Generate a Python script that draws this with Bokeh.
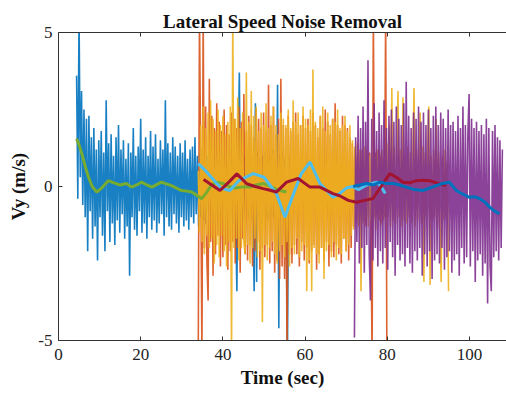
import numpy as np
from bokeh.plotting import figure
from bokeh.models import LinearAxis, FixedTicker, Range1d
from bokeh.embed import file_html
from bokeh.resources import INLINE

# ---------------- data ----------------
# raw noisy lateral speed records, sampled every 0.3 s
blue_t0 = 4.4
blue_vals = [
    3.6, -0.4, 5.6, 0.3, 3.1, -0.6, 2.5, -1.0, 2.2, -2.1,
    2.3, -0.8, 1.6, -1.7, 1.9, -1.3, 1.2, -2.4, 1.5, -1.0,
    1.8, -1.6, 1.1, -2.1, 2.8, -0.8, 1.4, -1.8, 1.7, -1.2,
    1.0, -1.9, 1.6, -1.1, 2.0, -1.5, 1.2, -0.9, 1.5, -1.7,
    0.9, -1.3, 1.4, -2.9, 1.1, -1.0, 1.9, -1.4, 1.0, -1.6,
    1.3, -0.8, 2.2, -1.5, 1.2, -1.2, 1.6, -1.7, 1.0, -1.0,
    1.8, -1.4, 1.3, -1.1, 1.7, -1.5, 0.9, -1.2, 1.5, -0.9,
    1.2, -1.6, 2.8, -1.0, 1.4, -1.3, 1.1, -1.4, 1.6, -0.9,
    1.3, -1.2, 1.0, -1.5, 1.4, -1.0, 1.1, -1.3, 1.5, -1.1,
    0.9, -1.4, 1.2, -1.0, 1.3, -1.2, 1.6, -0.9, 1.0, -1.3,
    1.1, -1.0, 1.2, -1.1, 0.9, -1.2, 1.0, -0.8, 1.1, -1.0,
    0.8, -1.2, 1.0, -0.9, 1.2, -1.1, 0.9, -1.0, 1.1, -0.8,
    1.0, -1.1, 0.8, -0.9, 1.2, -1.0, 0.9, -1.2, 1.0, -0.9,
    -3.4, 1.1, 3.7, -1.0, 0.9, -1.1, 1.0, -0.9, 1.2, -1.0,
    0.9, -1.1, 1.0, -0.8, -3.4, 2.7, -3.1, 1.1, -1.0, 0.9,
    -1.2, 1.0, -0.9, 1.1, -1.0, 0.8, -1.1, 1.0, -0.9, 1.2,
    -1.0, 0.9, -1.1, 3.3, -4.6, 1.0, -0.9, 1.1, -1.0, 0.9,
    -1.2, -5.6, 1.0, -0.8, 0.6,
]
orange_t0 = 34.0
orange_vals = [
    -5.6, 5.6, 0.8, -5.6, 5.6, -2.0, 2.6, -2.4, -3.7, 3.5,
    -1.8, 2.3, -2.9, 1.9, -2.2, 2.7, -1.6, 2.1, -2.6, 1.8,
    -2.3, 2.5, -1.9, 2.0, -2.7, 1.7, -2.1, 2.4, -1.8, 2.2,
    -2.5, 1.9, -2.0, 2.6, -2.8, 2.1, -1.7, 3.0, -2.2, 1.8,
    -2.4, 2.3, -1.9, 2.0, -2.6, 1.6, -2.1, 2.5, -1.8, 2.2,
    -2.7, 1.9, -2.0, 2.4, -2.3, 1.8, -1.9, 3.3, -2.5, 2.0,
    -2.1, 2.6, -2.8, 1.7, -2.4, 2.2, -3.0, 3.5, -2.6, 2.0,
    -3.0, 1.9, -5.6, 2.3, -2.2, 1.8, -2.5, 2.1, -1.9, 2.4,
    -2.2, 1.7, -2.6, 2.0, -1.8, 2.3, -2.4, 1.9, -2.0, 2.2,
    -2.5, 1.8, -2.1, 2.4, -1.9, 2.0, -2.7, 1.6, -2.2, 2.3,
    -2.0, 1.9, -2.4, 2.5, -1.8, 2.1, -2.6, 1.7, -2.1, 2.2,
    -2.3, 2.7, -1.9, 2.0, -2.2, 1.8, -2.5, 2.3, -1.7, 2.0,
    -2.1, 1.9, -2.4, 1.6, -2.0, 1.4, -1.3, 1.2, -1.1, 1.0,
    -1.2, 1.1, -1.0, 1.2, -1.1, 0.9, -1.3, 1.0, -1.0, 1.1,
    -1.2, -5.6, 5.6, -1.0, 1.1, -0.9, 1.2, -1.1, 1.0, -1.2,
    0.9, -1.0, 5.6, -5.6,
]
yellow_t0 = 34.0
yellow_vals = [
    0.5, -1.5, 2.0, -1.8, 2.6, -2.2, 1.9, -1.6, 2.4, -2.0,
    2.8, -1.7, 2.2, -2.5, 1.8, -1.9, 2.5, -2.3, 2.0, -1.6,
    2.3, -2.1, 1.7, -2.6, 2.1, -1.8, 2.6, -5.6, 5.6, -2.0,
    2.2, -1.7, 2.9, -2.4, 1.9, -2.0, 2.4, -1.8, -2.2, 3.7,
    -1.9, 2.1, -2.5, 3.1, -2.0, 2.3, -1.7, 2.6, -2.3, 1.8,
    -2.1, 2.4, -4.4, 2.0, -1.9, 2.7, -2.4, 1.9, -2.0, 2.3,
    -1.8, 2.6, -2.2, 2.0, -2.5, 1.7, -2.1, 2.4, -1.9, 2.2,
    -2.3, 2.0, -1.8, 2.5, -2.6, 1.9, -2.0, 2.8, -2.2, 2.1,
    -1.7, 2.4, -2.3, 2.0, -2.1, 2.6, -1.9, 2.2, -3.4, 2.0,
    -2.4, 2.5, -3.4, 3.8, -2.0, 2.1, -2.2, 1.9, -2.5, 2.3,
    -2.0, 2.6, -3.0, 1.8, -2.1, 2.4, -1.9, 2.0, -2.3, 2.2,
    -1.8, 2.1, -2.4, 2.5, -2.0, 1.9, -2.2, 2.0, -1.7, 2.3,
    -2.1, 1.8, -1.9, 2.0, -1.6, 1.5, -1.4, 1.3, -1.2, 1.4,
    -1.3, 1.2, -3.4, 1.1, -1.2, 1.3, -1.0, 1.2, -1.3, 1.0,
    -1.1, 1.3, -1.2, 1.0, -1.4, 1.2, -1.0, 1.1, -1.3, 1.2,
    -1.1, 1.0, -1.2, 1.4, -1.0, 2.0, -1.3, 3.2, -1.1, 1.3,
    -1.2, 1.1, 3.1, -1.0, 1.2, -1.3, 2.9, -1.1, 1.0, -1.2,
    1.3, -1.0, 1.1, -1.2, 1.0, 3.2, -1.3, 1.2, -1.1, 1.0,
    2.4, -1.2, 1.3, -3.1, 1.1, -1.0, 1.2, 2.6, -3.2, 1.0,
    -1.1, 1.2, -1.0, 2.2, -1.3, 1.1, -1.2, -3.1, 1.0, -1.1,
    1.2, -1.0, 0.8, -3.4,
]
purple_t0 = 72.0
purple_vals = [
    -4.9, 1.6, -1.8, 2.3, -2.5, 1.9, -2.0, 2.6, -2.8, 2.1,
    -1.9, 4.1, -2.2, -3.7, 2.2, -2.4, 2.7, -2.0, 1.8, -2.6,
    2.4, -2.1, 2.0, -2.5, 2.8, -2.0, 1.9, -2.7, 2.3, -1.8,
    2.5, -2.3, 2.1, -2.9, 2.6, -1.9, 2.2, -2.4, 2.0, -2.2,
    2.7, -2.6, 3.4, -2.0, 2.3, -2.5, 1.9, -2.8, 2.4, -2.1,
    2.2, -2.4, 2.6, -2.0, 2.1, -2.9, 2.4, -2.2, 2.0, -2.6,
    2.5, -2.1, 1.9, -3.0, 2.3, -2.4, 2.6, -2.2, 2.0, -2.5,
    2.4, -2.0, 2.2, -2.7, 1.9, -2.3, 2.5, -2.1, 2.0, -2.8,
    2.1, -2.4, 1.8, -2.2, 2.3, -2.9, 1.9, -2.0, 2.6, -2.5,
    2.0, -2.3, 1.7, 3.0, -2.6, 2.2, -2.1, 1.9, -3.1, 2.1,
    -2.4, 1.8, -2.2, 2.0, -2.9, 1.7, -2.5, 2.2, -3.8, 1.9,
    -2.6, -3.4, 1.8, -2.3, 2.0, -2.1, 1.6, -2.4, 1.5, -2.0,
    1.2,
]
sample_step = 0.3

# smoothed (noise removed) curves
green_t = [4.4, 5.0, 5.7, 6.5, 7.3, 8.2, 9.3, 10.5, 12.1, 13.5, 15.0, 16.5, 17.8, 19.0,
           20.2, 21.5, 22.7, 24.0, 25.1, 26.3, 27.5, 28.7, 29.9, 31.2, 32.4, 33.6, 34.8,
           36.0, 37.2, 38.5, 40.0, 41.5, 43.0, 44.5, 46.6, 48.0, 49.8, 51.5, 53.5, 55.5]
green_v = [1.55, 1.35, 1.06, 0.65, 0.3, 0.0, -0.18, -0.05, 0.19, 0.12, 0.05, 0.1, -0.02, 0.05,
           0.14, 0.05, -0.02, 0.07, 0.14, 0.08, 0.03, -0.05, -0.13, -0.15, -0.18, -0.28, -0.4,
           -0.2, 0.05, 0.14, 0.1, 0.0, -0.05, -0.02, -0.02, 0.05, 0.1, 0.0, -0.12, -0.18]
cyan_t = [34.0, 35.5, 37.5, 39.5, 41.7, 44.0, 47.4, 50.0, 53.0, 55.1, 57.0, 59.0, 61.2, 63.6,
          66.8, 68.4, 70.0, 71.5, 73.0, 75.0, 77.4, 78.5, 79.5]
cyan_v = [0.74, 0.55, 0.25, -0.05, -0.13, 0.2, 0.42, 0.3, -0.23, -1.0, -0.3, 0.4, 0.79, 0.1,
          -0.35, -0.23, -0.05, 0.0, -0.1, 0.05, 0.14, 0.0, -0.23]
red_t = [35.3, 37.3, 39.3, 41.5, 43.4, 45.8, 47.8, 49.8, 51.5, 53.0, 55.5, 58.3, 61.2, 63.6,
         66.8, 68.4, 70.5, 72.5, 74.5, 76.5, 78.5, 80.6, 82.2, 83.8, 85.5, 87.0, 88.7, 90.3,
         92.3, 94.3]
red_v = [0.23, 0.05, -0.13, 0.15, 0.41, 0.09, 0.0, -0.07, -0.12, -0.18, 0.14, 0.26, -0.02, -0.02,
         -0.23, -0.3, -0.45, -0.51, -0.45, -0.39, 0.0, 0.42, 0.3, 0.14, 0.12, 0.19, 0.2, 0.19,
         0.1, 0.03]
dblue_t = [71.7, 73.3, 75.0, 76.6, 78.2, 79.8, 81.4, 83.0, 84.6, 86.6, 88.6, 90.3, 91.9, 93.5,
           95.1, 96.8, 98.4, 100.0, 101.2, 102.4, 103.7, 104.9, 106.1, 107.3]
dblue_v = [0.0, 0.05, 0.1, 0.05, 0.14, 0.1, 0.1, 0.05, -0.02, -0.1, -0.13, -0.05, 0.03, 0.1,
           0.14, -0.13, -0.25, -0.35, -0.33, -0.39, -0.5, -0.67, -0.8, -0.88]

x_ticks = [0, 20, 40, 60, 80, 100]
y_ticks = [-5, 0, 5]

# ---------------- figure ----------------
FONT = "Liberation Serif"

p = figure(width=506, height=396, output_backend="svg", toolbar_location=None,
           x_range=Range1d(0, 109), y_range=Range1d(-5, 5),
           min_border_left=58, min_border_right=0, min_border_top=32, min_border_bottom=56,
           x_axis_label="Time (sec)", y_axis_label="Vy (m/s)",
           title="Lateral Speed Noise Removal")
p.xgrid.visible = False
p.ygrid.visible = False
p.outline_line_color = None
p.background_fill_color = "white"
p.border_fill_color = "white"

p.title.text_font = FONT
p.title.text_font_size = "19px"
p.title.text_font_style = "bold"
p.title.align = "center"
p.title.text_color = "#111111"
p.title.standoff = 2

for ax in (p.xaxis[0], p.yaxis[0]):
    ax.axis_label_text_font = FONT
    ax.axis_label_text_font_size = "19px"
    ax.axis_label_text_font_style = "bold"
    ax.axis_label_text_color = "#111111"
    ax.major_label_text_font = FONT
    ax.major_label_text_font_size = "17px"
    ax.major_label_text_color = "#222222"
    ax.major_tick_in = 4
    ax.major_tick_out = 0
    ax.minor_tick_line_color = None
    ax.axis_line_color = "#333333"
    ax.major_tick_line_color = "#333333"

p.xaxis[0].ticker = FixedTicker(ticks=x_ticks)
p.yaxis[0].ticker = FixedTicker(ticks=y_ticks)
p.yaxis[0].major_label_overrides = {-5: "-5", 0: "0", 5: "5"}
p.xaxis[0].major_label_standoff = 8
p.xaxis[0].axis_label_standoff = 4
p.yaxis[0].major_label_standoff = 6
p.yaxis[0].axis_label_standoff = 6

top_axis = LinearAxis(ticker=FixedTicker(ticks=x_ticks), major_label_text_font_size="0px",
                      major_label_standoff=0, major_tick_in=4, major_tick_out=0,
                      minor_tick_line_color=None, axis_line_color="#333333",
                      major_tick_line_color="#333333")
p.add_layout(top_axis, "above")

def sample_times(t0, vals):
    return t0 + sample_step * np.arange(len(vals))

NOISE_W = 1.6
NOISE_A = 0.9
p.line(sample_times(blue_t0, blue_vals), blue_vals, color="#0072BD", line_width=NOISE_W, line_alpha=NOISE_A)
p.line(sample_times(orange_t0, orange_vals), orange_vals, color="#D95319", line_width=NOISE_W, line_alpha=NOISE_A)
p.line(sample_times(yellow_t0, yellow_vals), yellow_vals, color="#EDB120", line_width=NOISE_W, line_alpha=NOISE_A)
p.line(sample_times(purple_t0, purple_vals), purple_vals, color="#7E2F8E", line_width=NOISE_W, line_alpha=NOISE_A)

SMOOTH_W = 3
p.line(green_t, green_v, color="#77AC30", line_width=SMOOTH_W)
p.line(cyan_t, cyan_v, color="#4DBEEE", line_width=SMOOTH_W)
p.line(red_t, red_v, color="#A2142F", line_width=SMOOTH_W)
p.line(dblue_t, dblue_v, color="#0072BD", line_width=SMOOTH_W)

open("out.html", "w").write(file_html(p, INLINE))
